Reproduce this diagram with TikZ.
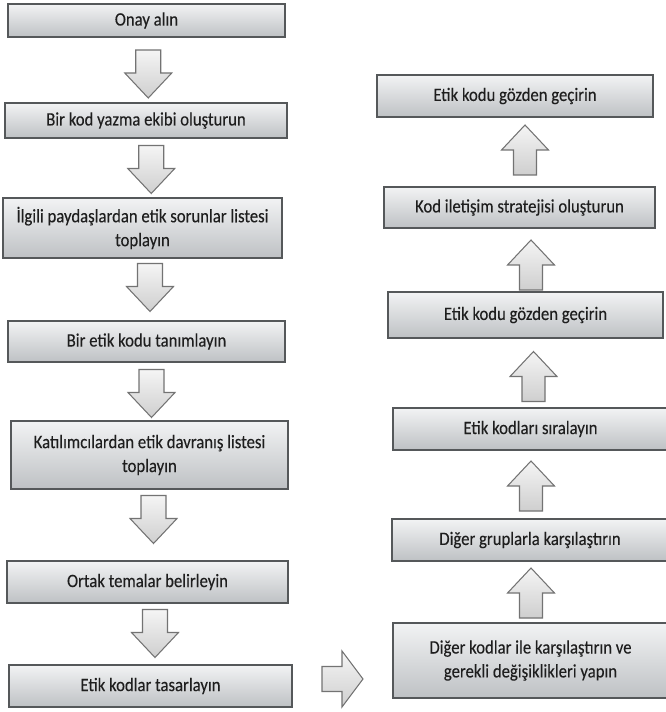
\documentclass[tikz,border=0pt]{standalone}
\usepackage{fontspec}
\setmainfont{Carlito}[FakeStretch=0.88, FakeBold=0.2]
\usetikzlibrary{calc,shadows}

\definecolor{boxtop}{RGB}{242,243,244}
\definecolor{boxbot}{RGB}{190,193,196}
\definecolor{boxline}{RGB}{85,88,90}
\definecolor{arrline}{RGB}{115,115,115}
\definecolor{txt}{RGB}{30,30,30}

\tikzset{
  stepbox/.style={draw=boxline, line width=0.9pt, top color=boxtop, bottom color=boxbot,
    drop shadow={opacity=0.25, shadow xshift=0.6pt, shadow yshift=-0.8pt},
    align=center, inner sep=0pt, text=txt, font=\fontsize{10.8}{13.6}\selectfont},
  arrowbox/.style={draw=arrline, line width=0.6pt, top color=gray!8, bottom color=gray!38,
    line join=miter},
  downarr/.pic={\draw[arrowbox] (-12.5,-24) -- (12.5,-24) -- (12.5,-1) -- (23.5,-1) -- (0,24) -- (-23.5,-1) -- (-12.5,-1) -- cycle;},
  uparr/.pic={\draw[arrowbox] (0,-25) -- (23.5,0) -- (11.5,0) -- (11.5,25) -- (-11.5,25) -- (-11.5,0) -- (-23.5,0) -- cycle;},
  rightarr/.pic={\draw[arrowbox] (-20.5,-12.5) -- (-0.5,-12.5) -- (-0.5,-28) -- (20.5,0) -- (-0.5,28) -- (-0.5,12.5) -- (-20.5,12.5) -- cycle;}
}

\begin{document}
\begin{tikzpicture}[x=0.02cm, y=-0.02cm]
\useasboundingbox (0,0) rectangle (665,712);

% left column, top to bottom
\node[stepbox, minimum width=5.54cm, minimum height=0.66cm] (l1) at (146.5,20.5) {Onay alın};
\node[stepbox, minimum width=5.64cm, minimum height=0.70cm] (l2) at (146,120.5) {Bir kod yazma ekibi oluşturun};
\node[stepbox, minimum width=5.58cm, minimum height=1.20cm] (l3) at (142.5,228) {İlgili paydaşlardan etik sorunlar listesi\\toplayın};
\node[stepbox, minimum width=5.54cm, minimum height=0.82cm] (l4) at (146.5,341.5) {Bir etik kodu tanımlayın};
\node[stepbox, minimum width=5.54cm, minimum height=1.36cm] (l5) at (149.5,455) {Katılımcılardan etik davranış listesi\\toplayın};
\node[stepbox, minimum width=5.62cm, minimum height=0.84cm] (l6) at (147.5,582) {Ortak temalar belirleyin};
\node[stepbox, minimum width=5.66cm, minimum height=0.84cm] (l7) at (150.5,686) {Etik kodlar tasarlayın};

% right column, bottom to top
\node[stepbox, minimum width=5.50cm, minimum height=1.50cm] (r6) at (530.5,660.5) {Diğer kodlar ile karşılaştırın ve\\gerekli değişiklikleri yapın};
\node[stepbox, minimum width=5.52cm, minimum height=0.84cm] (r5) at (530,540) {Diğer gruplarla karşılaştırın};
\node[stepbox, minimum width=5.50cm, minimum height=0.84cm] (r4) at (530.5,429) {Etik kodları sıralayın};
\node[stepbox, minimum width=5.50cm, minimum height=0.92cm] (r3) at (525.5,315) {Etik kodu gözden geçirin};
\node[stepbox, minimum width=5.42cm, minimum height=0.82cm] (r2) at (519.5,207.5) {Kod iletişim stratejisi oluşturun};
\node[stepbox, minimum width=5.52cm, minimum height=0.84cm] (r1) at (515,96) {Etik kodu gözden geçirin};

% block arrows
\pic at ($(l1.south)!0.5!(l2.north)+(2,4)$) {downarr};
\pic at ($(l2.south)!0.5!(l3.north)+(7,1.5)$) {downarr};
\pic at ($(l3.south)!0.5!(l4.north)+(5.5,-2)$) {downarr};
\pic at ($(l4.south)!0.5!(l5.north)+(3.5,2)$) {downarr};
\pic at ($(l5.south)!0.5!(l6.north)+(5,-5.5)$) {downarr};
\pic at ($(l6.south)!0.5!(l7.north)+(6,-0.5)$) {downarr};
\pic at ($(l7.east)!0.5!(r6.west)+(0,5.75)$) {rightarr};
\pic at ($(r6.north)!0.5!(r5.south)+(0.75,1)$) {uparr};
\pic at ($(r5.north)!0.5!(r4.south)+(0.75,1.5)$) {uparr};
\pic at ($(r4.north)!0.5!(r3.south)+(5.5,3.5)$) {uparr};
\pic at ($(r3.north)!0.5!(r2.south)+(8.5,5)$) {uparr};
\pic at ($(r2.north)!0.5!(r1.south)+(7.75,-2)$) {uparr};
\end{tikzpicture}
\end{document}
